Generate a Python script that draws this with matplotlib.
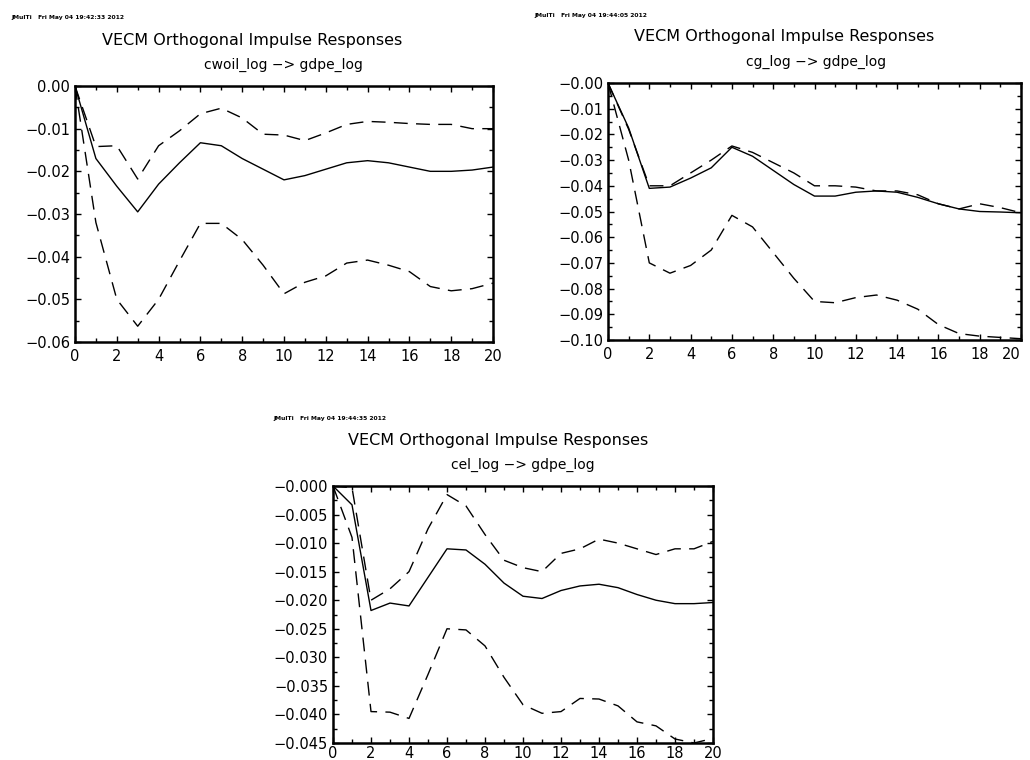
import matplotlib
matplotlib.use('Agg')
from matplotlib import pyplot as plt
from matplotlib.ticker import MultipleLocator, FixedLocator, FixedFormatter

horizon = list(range(21))

# cwoil_log -> gdpe_log
cwoil_irf = [0.0, -0.017, -0.0235, -0.0295, -0.023, -0.018, -0.0133, -0.014, -0.017, -0.0195, -0.022,
             -0.021, -0.0195, -0.018, -0.0175, -0.018, -0.019, -0.020, -0.020, -0.0197, -0.019]
cwoil_up = [0.0, -0.0142, -0.014, -0.0218, -0.014, -0.0105, -0.0065, -0.0052, -0.0075, -0.0113, -0.0115,
            -0.0128, -0.011, -0.009, -0.0083, -0.0085, -0.0088, -0.009, -0.009, -0.010, -0.010]
cwoil_lo = [0.0, -0.032, -0.050, -0.0563, -0.050, -0.041, -0.0322, -0.0322, -0.036, -0.042, -0.0487,
            -0.046, -0.0445, -0.0415, -0.0408, -0.042, -0.0435, -0.047, -0.048, -0.0475, -0.0462]

# cg_log -> gdpe_log
cg_irf = [0.0, -0.0175, -0.041, -0.0405, -0.037, -0.033, -0.025, -0.0285, -0.034, -0.0395, -0.044,
          -0.044, -0.0425, -0.042, -0.0425, -0.0445, -0.047, -0.049, -0.050, -0.0502, -0.0505]
cg_up = [0.0, -0.018, -0.040, -0.040, -0.035, -0.030, -0.0245, -0.027, -0.031, -0.035, -0.040,
         -0.040, -0.0405, -0.042, -0.042, -0.0435, -0.047, -0.049, -0.047, -0.0485, -0.0505]
cg_lo = [0.0, -0.030, -0.070, -0.074, -0.071, -0.065, -0.0515, -0.056, -0.066, -0.076, -0.085,
         -0.0855, -0.0835, -0.0825, -0.0845, -0.088, -0.094, -0.0975, -0.0985, -0.099, -0.0995]

# cel_log -> gdpe_log
cel_irf = [0.0, -0.0033, -0.0218, -0.0205, -0.021, -0.016, -0.011, -0.0112, -0.0137, -0.017, -0.0193,
           -0.0197, -0.0183, -0.0175, -0.0172, -0.0178, -0.019, -0.020, -0.0206, -0.0206, -0.0204]
cel_up = [0.0, -0.0003, -0.020, -0.018, -0.015, -0.0075, -0.0015, -0.0035, -0.0085, -0.013, -0.0143,
          -0.015, -0.0118, -0.011, -0.0093, -0.010, -0.011, -0.012, -0.011, -0.011, -0.0097]
cel_lo = [0.0, -0.009, -0.0395, -0.0396, -0.0407, -0.033, -0.025, -0.0252, -0.028, -0.0335, -0.0383,
          -0.0398, -0.0395, -0.0372, -0.0373, -0.0385, -0.0413, -0.042, -0.0443, -0.045, -0.0442]

x_ticks = [0, 2, 4, 6, 8, 10, 12, 14, 16, 18, 20]
y1_ticks = [0.0, -0.01, -0.02, -0.03, -0.04, -0.05, -0.06]
y1_labels = ['0.00', '\u22120.01', '\u22120.02', '\u22120.03', '\u22120.04', '\u22120.05', '\u22120.06']
y2_ticks = [-0.01 * i for i in range(11)]
y2_labels = ['\u22120.%02d' % i for i in range(10)] + ['\u22120.10']
y3_ticks = [-0.005 * i for i in range(10)]
y3_labels = ['\u22120.%03d' % (5 * i) for i in range(10)]

stamps = ['JMulTi   Fri May 04 19:42:33 2012',
          'JMulTi   Fri May 04 19:44:05 2012',
          'JMulTi   Fri May 04 19:44:35 2012']
subtitles = ['cwoil_log \u2212> gdpe_log', 'cg_log \u2212> gdpe_log', 'cel_log \u2212> gdpe_log']

W, H = 1030.0, 760.0
fig = plt.figure(figsize=(10.3, 7.6), dpi=100)
plt.rcParams['font.family'] = ['DejaVu Sans']


def panel(box, irf, up, lo, yticks, ylabels, ylim, minor, stamp, sub, title_xy, sub_xy, stamp_xy, xpad):
    l, r, t, b = box
    ax = fig.add_axes([l / W, 1 - b / H, (r - l) / W, (b - t) / H])
    ax.plot(horizon, irf, color='black', lw=1.0)
    ax.plot(horizon, up, color='black', lw=1.0, linestyle=(0, (10, 6)))
    ax.plot(horizon, lo, color='black', lw=1.0, linestyle=(0, (10, 6)))
    ax.set_xlim(0, 20)
    ax.set_ylim(*ylim)
    ax.xaxis.set_major_locator(FixedLocator(x_ticks))
    ax.xaxis.set_minor_locator(MultipleLocator(1))
    ax.yaxis.set_major_locator(FixedLocator(yticks))
    ax.yaxis.set_major_formatter(FixedFormatter(ylabels))
    ax.yaxis.set_minor_locator(MultipleLocator(minor))
    ax.tick_params(which='both', direction='in', top=True, right=True, width=1.0, labelsize=10.5)
    ax.tick_params(which='major', length=4)
    ax.tick_params(which='minor', length=3)
    ax.tick_params(axis='x', pad=xpad)
    for s in ax.spines.values():
        s.set_linewidth(1.8)
    fig.text(title_xy[0] / W, 1 - title_xy[1] / H, 'VECM Orthogonal Impulse Responses',
             ha='center', va='center', fontsize=11.5)
    fig.text(sub_xy[0] / W, 1 - sub_xy[1] / H, sub, ha='center', va='center', fontsize=10)
    fig.text(stamp_xy[0] / W, 1 - stamp_xy[1] / H, stamp, ha='left', va='center',
             fontsize=4.3, fontweight='bold')
    return ax


panel((75, 493, 86, 342), cwoil_irf, cwoil_up, cwoil_lo, y1_ticks, y1_labels, (-0.06, 0.0), 0.005,
      stamps[0], subtitles[0], (252, 40), (283, 65), (11, 17), 5)
ax2 = panel((608, 1021, 83, 340), cg_irf, cg_up, cg_lo, y2_ticks, y2_labels, (-0.10, 0.0), 0.005,
            stamps[1], subtitles[1], (784, 37), (816, 62), (534, 15), 5)
# keep the last x label inside the picture
ax2.get_xticklabels()[-1].set_horizontalalignment('right')
panel((333, 713, 486, 743), cel_irf, cel_up, cel_lo, y3_ticks, y3_labels, (-0.045, 0.0), 0.0025,
      stamps[2], subtitles[2], (498, 440), (523, 465), (273, 418), 2)

fig.savefig('out.png', dpi=100, facecolor='white')
